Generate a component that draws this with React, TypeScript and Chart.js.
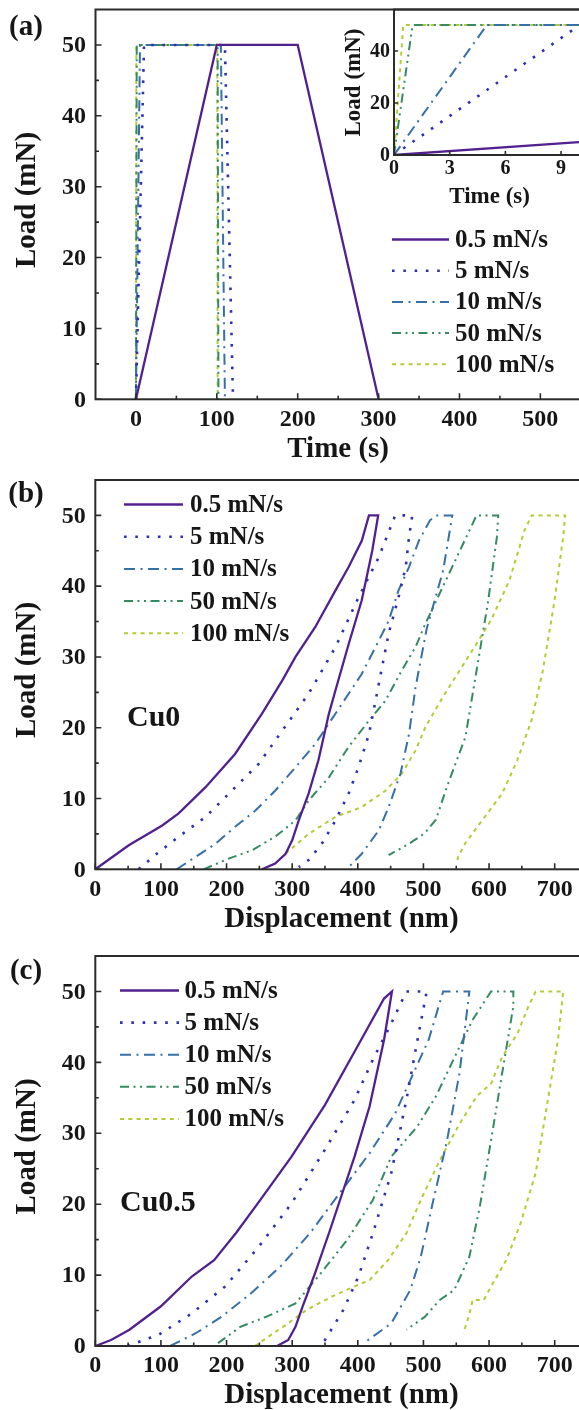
import React, { useEffect, useRef } from "react";
import { Chart, registerables } from "chart.js";

Chart.register(...registerables);

const FONT = '"Liberation Serif", "Times New Roman", Times, serif';
const INK = "#161616";
const FRAME = "#2b2b2b";

// ---------- data ----------
const SERIES_LABELS = ["0.5 mN/s", "5 mN/s", "10 mN/s", "50 mN/s", "100 mN/s"];

// (a) load schedules: time (s) vs load (mN)
const A_TIME_05 = [0, 100, 200, 300];
const A_TIME_5 = [0, 10, 110, 120];
const A_TIME_10 = [0, 5, 105, 110];
const A_TIME_50 = [0, 1, 101, 102];
const A_TIME_100 = [0, 0.5, 100.5, 101];
const A_LOAD = [0, 50, 50, 0];

// (b) Cu0: [displacement (nm), load (mN)]
const B_05 = [[0, 0], [51, 3.4], [102, 6.2], [127, 7.9], [168, 11.6], [213, 16.3], [254, 22], [285, 26.7], [305, 30], [335, 34.2], [366, 39.4], [386, 42.7], [406, 46.4], [417, 50], [431, 50], [422, 45], [406, 38], [386, 31.8], [366, 25.3], [356, 22], [340, 15.4], [325, 10.7], [310, 6.9], [300, 4.1], [290, 2.2], [274, 0.8], [254, 0]];
const B_5 = [[66, 0], [91, 2], [127, 4.6], [168, 7.4], [208, 11.1], [249, 14.9], [285, 19.6], [325, 24.8], [366, 31.4], [401, 38.4], [432, 44.1], [457, 50], [483, 50], [478, 46.9], [473, 42.7], [462, 38.4], [447, 33.3], [437, 28.6], [427, 23.8], [417, 19.1], [401, 14.4], [386, 10.7], [366, 6.9], [345, 3.6], [325, 1.3], [310, 0.3]];
const B_10 = [[124, 0], [152, 1.7], [183, 3.6], [213, 6], [244, 8.3], [274, 11.1], [305, 14.4], [335, 17.7], [356, 20.6], [386, 24.8], [406, 27.6], [432, 32.3], [447, 35.1], [462, 39.4], [478, 42.7], [493, 46.4], [510, 49.3], [519, 50], [544, 50], [530, 42.2], [505, 34], [488, 25.7], [478, 19.1], [465, 13.5], [447, 8.8], [432, 5.5], [406, 2.2], [386, 0.3]];
const B_50 = [[165, 0], [203, 1.5], [239, 2.7], [274, 4.6], [305, 6.9], [325, 9.7], [356, 13], [386, 17.3], [417, 21], [442, 23.8], [467, 28.1], [488, 31.4], [503, 34.7], [530, 40], [558, 45.5], [581, 50], [614, 50], [612, 47], [598, 37.5], [581, 28.1], [564, 18.7], [536, 11.7], [519, 7], [502, 5.1], [478, 3.6], [447, 2]];
const B_100 = [[290, 2.2], [325, 5], [366, 7.4], [406, 8.8], [442, 11.1], [467, 13.5], [488, 16.8], [503, 20.1], [530, 24.4], [575, 31], [603, 35.2], [631, 40.8], [654, 47.9], [665, 50], [716, 50], [713, 47], [699, 37.5], [682, 28.1], [665, 21.1], [643, 15.4], [620, 10.7], [586, 6.5], [564, 3.7], [553, 1.8], [551, 1]];

// (c) Cu0.5: [displacement (nm), load (mN)]
const C_05 = [[0, 0], [24, 0.85], [52, 2.3], [100, 5.6], [147, 9.8], [181, 12.1], [215, 16], [249, 20.3], [299, 26.7], [350, 34], [395, 41.5], [440, 49], [452, 50], [440, 43.2], [418, 33.8], [395, 26.7], [378, 22], [356, 15.9], [333, 9.8], [316, 5.6], [305, 2.7], [294, 0.85], [277, 0]];
const C_5 = [[49, 0], [97, 1.6], [147, 4.6], [198, 8.4], [249, 14], [299, 20.1], [350, 27.7], [395, 34.7], [423, 40.4], [451, 45.5], [474, 50], [505, 50], [491, 43.2], [474, 34.7], [451, 24.4], [423, 15.9], [401, 9.8], [378, 5.1], [350, 0.85], [339, 0]];
const C_10 = [[114, 0], [153, 1.8], [192, 4.1], [237, 7.4], [282, 11.2], [327, 15.9], [372, 21.5], [418, 27.2], [457, 32.8], [480, 37.5], [508, 43.2], [530, 50], [570, 50], [555, 38.5], [536, 29], [513, 19.7], [496, 12.6], [480, 7.9], [451, 3.2], [409, 0.4]];
const C_50 = [[187, 0.4], [221, 2.7], [260, 4.1], [305, 6], [344, 10.3], [384, 15], [423, 20.6], [451, 26.7], [491, 31], [519, 35.2], [553, 41.8], [575, 46], [603, 50], [637, 50], [637, 47.9], [620, 38.5], [603, 29], [586, 19.7], [570, 12.6], [547, 7.9], [525, 6.5], [502, 4.1], [474, 2.3]];
const C_100 = [[243, 0], [294, 3.2], [322, 5.1], [361, 7], [395, 8.4], [418, 9.3], [446, 12.1], [474, 15.9], [496, 20.6], [525, 26.2], [553, 31], [581, 35.2], [603, 37], [620, 40.8], [643, 44], [660, 47.9], [671, 50], [713, 50], [705, 43.2], [688, 33.8], [671, 24.4], [648, 17.3], [626, 12.1], [603, 8.4], [592, 6.5], [575, 6.5], [570, 4.5], [561, 1.8]];

// tick labels
const LOAD_TICKS = [0, 10, 20, 30, 40, 50];
const LOAD_MINOR = [5, 15, 25, 35, 45];
const TIME_TICKS = [0, 100, 200, 300, 400, 500];
const TIME_MINOR = [50, 150, 250, 350, 450];
const DISP_TICKS = [0, 100, 200, 300, 400, 500, 600, 700];
const DISP_MINOR = [50, 150, 250, 350, 450, 550, 650];
const INSET_TIME_TICKS = [0, 3, 6, 9];
const INSET_LOAD_TICKS = [0, 20, 40];

// ---------- styles ----------
const SERIES_STYLE = [
  { color: "#52208f", width: 2.3, dash: [] as number[] },
  { color: "#2f2fb4", width: 2.6, dash: [2.6, 8.7] },
  { color: "#3570a8", width: 2, dash: [11, 5.5, 2, 5.5] },
  { color: "#358a62", width: 2, dash: [9, 4.5, 2, 4.5, 2, 4.5] },
  { color: "#b4cc34", width: 2, dash: [4, 4.3] },
];

function pairsToPoints(p: number[][]) {
  return p.map(([x, y]) => ({ x, y }));
}
function zipPoints(xs: number[], ys: number[]) {
  return xs.map((x, i) => ({ x, y: ys[i] }));
}

function makeDatasets(series: { x: number; y: number }[][]) {
  return series.map((pts, i) => ({
    label: SERIES_LABELS[i],
    data: pts,
    borderColor: SERIES_STYLE[i].color,
    borderWidth: SERIES_STYLE[i].width,
    borderDash: SERIES_STYLE[i].dash,
    pointRadius: 0,
    fill: false,
    tension: 0,
    showLine: true,
  }));
}

type Decor = {
  xTicks: number[];
  xMinor: number[];
  yTicks: number[];
  yMinor: number[];
  tickFont: number;
  majorLen: number;
  minorLen: number;
  yLabelGap: number;
  xLabelDy: number;
  xTitle: string;
  yTitle: string;
  titleFont: number;
  xTitleDy: number;
  yTitleX: number;
  yTitleY: number;
  panelLabel?: { text: string; x: number; y: number };
  note?: { text: string; x: number; y: number };
  legend?: { x0: number; x1: number; tx: number; y0: number; dy: number };
};

function decorPlugin(d: Decor) {
  return {
    id: "decor",
    afterDraw(chart: any) {
      const { ctx, chartArea: a } = chart;
      const xs = chart.scales.x;
      const ys = chart.scales.y;
      ctx.save();
      ctx.setLineDash([]);
      // frame
      ctx.strokeStyle = FRAME;
      ctx.lineWidth = 2;
      ctx.strokeRect(a.left, a.top, a.right - a.left, a.bottom - a.top);
      // ticks (inward)
      ctx.lineWidth = 1.6;
      ctx.beginPath();
      d.xTicks.forEach((v) => {
        const p = xs.getPixelForValue(v);
        ctx.moveTo(p, a.bottom);
        ctx.lineTo(p, a.bottom - d.majorLen);
      });
      d.xMinor.forEach((v) => {
        const p = xs.getPixelForValue(v);
        ctx.moveTo(p, a.bottom);
        ctx.lineTo(p, a.bottom - d.minorLen);
      });
      d.yTicks.forEach((v) => {
        const p = ys.getPixelForValue(v);
        ctx.moveTo(a.left, p);
        ctx.lineTo(a.left + d.majorLen, p);
      });
      d.yMinor.forEach((v) => {
        const p = ys.getPixelForValue(v);
        ctx.moveTo(a.left, p);
        ctx.lineTo(a.left + d.minorLen, p);
      });
      ctx.stroke();
      // tick labels
      ctx.fillStyle = INK;
      ctx.font = `bold ${d.tickFont}px ${FONT}`;
      ctx.textBaseline = "middle";
      ctx.textAlign = "right";
      d.yTicks.forEach((v) => {
        ctx.fillText(String(v), a.left - d.yLabelGap, ys.getPixelForValue(v) + 1);
      });
      ctx.textAlign = "center";
      d.xTicks.forEach((v) => {
        ctx.fillText(String(v), xs.getPixelForValue(v), a.bottom + d.xLabelDy);
      });
      // axis titles
      ctx.font = `bold ${d.titleFont}px ${FONT}`;
      ctx.fillText(d.xTitle, (a.left + a.right) / 2, a.bottom + d.xTitleDy);
      ctx.save();
      ctx.translate(d.yTitleX, d.yTitleY);
      ctx.rotate(-Math.PI / 2);
      ctx.fillText(d.yTitle, 0, 0);
      ctx.restore();
      if (d.panelLabel) {
        ctx.font = `bold 29px ${FONT}`;
        ctx.fillText(d.panelLabel.text, d.panelLabel.x, d.panelLabel.y);
      }
      if (d.note) {
        ctx.font = `bold 30px ${FONT}`;
        ctx.textAlign = "left";
        ctx.fillText(d.note.text, d.note.x, d.note.y);
      }
      if (d.legend) {
        const L = d.legend;
        chart.data.datasets.forEach((ds: any, i: number) => {
          const y = L.y0 + i * L.dy;
          ctx.strokeStyle = ds.borderColor;
          ctx.lineWidth = ds.borderWidth;
          ctx.setLineDash(ds.borderDash || []);
          ctx.beginPath();
          ctx.moveTo(L.x0, y);
          ctx.lineTo(L.x1, y);
          ctx.stroke();
          ctx.setLineDash([]);
          ctx.fillStyle = INK;
          ctx.font = `bold 25px ${FONT}`;
          ctx.textAlign = "left";
          ctx.fillText(ds.label, L.tx, y + 1);
        });
      }
      ctx.restore();
    },
  };
}

type PanelProps = {
  top: number;
  width: number;
  height: number;
  series: { x: number; y: number }[][];
  xMin: number;
  xMax: number;
  yMin: number;
  yMax: number;
  padding: { left: number; top: number; right: number; bottom: number };
  decor: Decor;
};

function Panel(p: PanelProps) {
  const ref = useRef<HTMLCanvasElement | null>(null);
  useEffect(() => {
    if (!ref.current) return;
    const chart = new Chart(ref.current, {
      type: "line",
      data: { datasets: makeDatasets(p.series) as any },
      options: {
        animation: false,
        responsive: false,
        maintainAspectRatio: false,
        layout: { padding: p.padding },
        plugins: { legend: { display: false }, tooltip: { enabled: false } },
        scales: {
          x: { type: "linear", min: p.xMin, max: p.xMax, display: false },
          y: { type: "linear", min: p.yMin, max: p.yMax, display: false },
        },
      },
      plugins: [decorPlugin(p.decor)],
    });
    return () => chart.destroy();
  }, []);
  return (
    <canvas
      ref={ref}
      width={p.width}
      height={p.height}
      style={{ position: "absolute", left: 0, top: p.top, width: p.width, height: p.height }}
    />
  );
}

const A_SERIES = [
  zipPoints(A_TIME_05, A_LOAD),
  zipPoints(A_TIME_5, A_LOAD),
  zipPoints(A_TIME_10, A_LOAD),
  zipPoints(A_TIME_50, A_LOAD),
  zipPoints(A_TIME_100, A_LOAD),
];
const B_SERIES = [B_05, B_5, B_10, B_50, B_100].map(pairsToPoints);
const C_SERIES = [C_05, C_5, C_10, C_50, C_100].map(pairsToPoints);

const mainDecor = {
  yTicks: LOAD_TICKS,
  yMinor: LOAD_MINOR,
  tickFont: 24,
  majorLen: 6,
  minorLen: 3.5,
  yLabelGap: 9.5,
  xLabelDy: 20,
  yTitle: "Load (mN)",
  titleFont: 29,
  xTitleDy: 50,
  yTitleX: 28,
};

export default function App() {
  const W = 600;
  return (
    <div
      style={{
        position: "absolute",
        left: 0,
        top: 0,
        width: 579,
        height: 1410,
        overflow: "hidden",
        background: "#ffffff",
      }}
    >
      <Panel
        top={0}
        width={W}
        height={470}
        series={A_SERIES}
        xMin={-50}
        xMax={550}
        yMin={0}
        yMax={55}
        padding={{ left: 95.5, top: 9.5, right: W - 580.8, bottom: 470 - 399.3 }}
        decor={{
          ...mainDecor,
          xTicks: TIME_TICKS,
          xMinor: TIME_MINOR,
          xTitle: "Time (s)",
          yTitleY: 200,
          panelLabel: { text: "(a)", x: 26, y: 28 },
          legend: { x0: 392, x1: 449, tx: 455, y0: 239.5, dy: 31.2 },
        }}
      />
      <Panel
        top={0}
        width={W}
        height={470}
        series={A_SERIES}
        xMin={0}
        xMax={10.3}
        yMin={0}
        yMax={56}
        padding={{ left: 394, top: 9.5, right: W - 585.2, bottom: 470 - 155 }}
        decor={{
          xTicks: INSET_TIME_TICKS,
          xMinor: [],
          yTicks: INSET_LOAD_TICKS,
          yMinor: [],
          tickFont: 20,
          majorLen: 4,
          minorLen: 2,
          yLabelGap: 4,
          xLabelDy: 14,
          xTitle: "Time (s)",
          yTitle: "Load (mN)",
          titleFont: 23,
          xTitleDy: 42,
          yTitleX: 354.5,
          yTitleY: 82.5,
        }}
      />
      <Panel
        top={470}
        width={W}
        height={470}
        series={B_SERIES}
        xMin={0}
        xMax={750}
        yMin={0}
        yMax={55}
        padding={{ left: 95.3, top: 10, right: W - 587.5, bottom: 470 - 399.3 }}
        decor={{
          ...mainDecor,
          xTicks: DISP_TICKS,
          xMinor: DISP_MINOR,
          xTitle: "Displacement (nm)",
          yTitleY: 200,
          panelLabel: { text: "(b)", x: 26, y: 25 },
          note: { text: "Cu0", x: 127, y: 248 },
          legend: { x0: 124, x1: 183, tx: 190, y0: 34.5, dy: 32.2 },
        }}
      />
      <Panel
        top={940}
        width={W}
        height={470}
        series={C_SERIES}
        xMin={0}
        xMax={750}
        yMin={0}
        yMax={55}
        padding={{ left: 95.3, top: 16, right: W - 587.5, bottom: 470 - 406 }}
        decor={{
          ...mainDecor,
          xTicks: DISP_TICKS,
          xMinor: DISP_MINOR,
          xTitle: "Displacement (nm)",
          yTitleY: 206.5,
          panelLabel: { text: "(c)", x: 26, y: 31.5 },
          note: { text: "Cu0.5", x: 120, y: 263 },
          legend: { x0: 120, x1: 179, tx: 184.6, y0: 50.5, dy: 32.1 },
        }}
      />
    </div>
  );
}
